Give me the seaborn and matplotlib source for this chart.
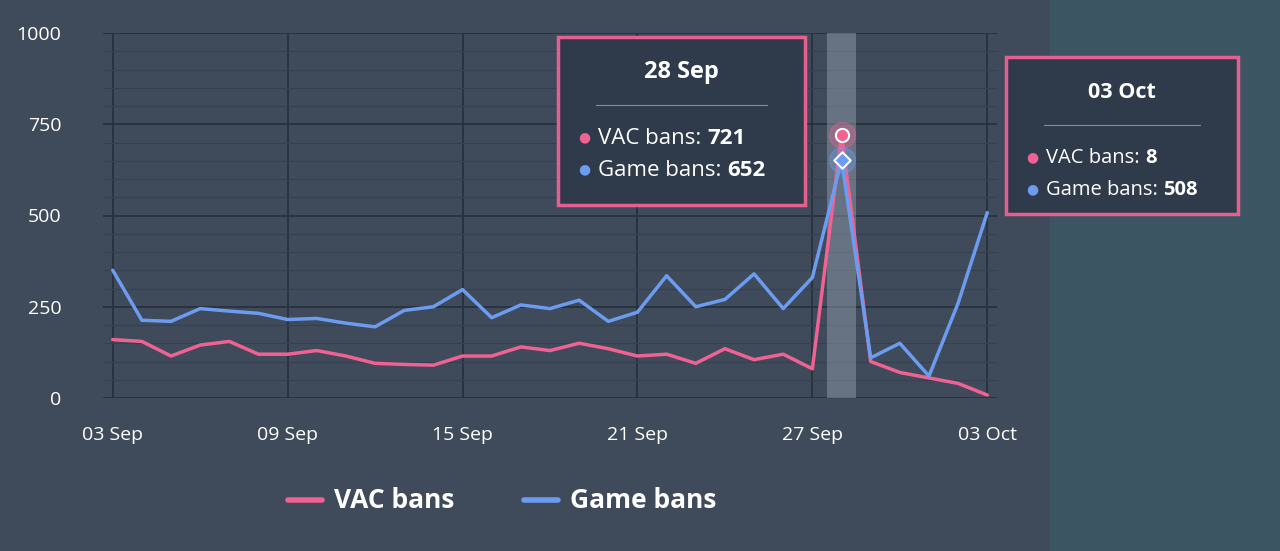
import matplotlib
matplotlib.use("Agg")
import matplotlib.pyplot as plt
import seaborn as sns
import pandas as pd
import numpy as np
from matplotlib.patches import Rectangle

dates = pd.date_range("2023-09-03", "2023-10-03", freq="D")
vac_bans = [160,155,115,145,155,120,120,130,115,95,92,90,115,115,140,130,150,135,115,120,95,135,105,120,80,721,100,70,55,40,8]
game_bans = [350,213,210,245,238,232,215,218,205,195,240,250,297,220,255,245,268,210,235,335,250,270,340,245,330,652,110,150,60,260,508]
tick_labels = ["03 Sep","09 Sep","15 Sep","21 Sep","27 Sep","03 Oct"]

PINK = "#f06292"; BLUE = "#6b9cf0"; BG = "#3f4b5b"
sns.set_theme(style="dark")
plt.rcParams['font.family'] = ['Open Sans', 'DejaVu Sans']
fig = plt.figure(figsize=(12.8, 5.51), dpi=100, facecolor=BG)
fig.patches.append(Rectangle((1050/1280, 0), 230/1280, 1, transform=fig.transFigure, color="#3b5563", zorder=0))
ax = fig.add_axes([103/1280, 1-398/551, (997-103)/1280, (398-33)/551])
ax.set_facecolor("none")
df = pd.DataFrame({"date": list(dates)*2, "value": vac_bans+game_bans,
                   "series": ["VAC bans"]*31 + ["Game bans"]*31})
sns.lineplot(data=df, x="date", y="value", hue="series", palette={"VAC bans": PINK, "Game bans": BLUE},
             linewidth=2.5, ax=ax, legend=False)
ax.set_ylim(0, 1000)
ax.set_xlim(dates[0]-pd.Timedelta(hours=8), dates[-1]+pd.Timedelta(hours=8))
ax.set_yticks([0,250,500,750,1000])
ax.set_yticks(np.arange(0,1001,50), minor=True)
ax.set_xticks(dates[::6]); ax.set_xticklabels(tick_labels)
ax.grid(True, which="major", color="#26303c", linewidth=1.2)
ax.grid(True, which="minor", axis="y", color="#354050", linewidth=0.8)
ax.tick_params(colors="white", labelsize=14, length=0)
ax.tick_params(axis="x", pad=20)
ax.tick_params(axis="y", pad=30)
ax.set_xlabel(""); ax.set_ylabel("")
for s in ax.spines.values(): s.set_visible(False)
d28 = dates[25]
ax.axvspan(d28-pd.Timedelta(hours=12), d28+pd.Timedelta(hours=12), color="#9aa6b2", alpha=0.45, lw=0)
ax.scatter([d28],[721], s=350, color=PINK, alpha=0.35, zorder=4)
ax.scatter([d28],[721], s=90, color=PINK, edgecolor="white", lw=1.5, zorder=5)
ax.scatter([d28],[652], s=350, color=BLUE, alpha=0.35, zorder=4)
ax.scatter([d28],[652], s=70, marker="D", color=BLUE, edgecolor="white", lw=1.5, zorder=5)

def tooltip(x0, y0, w, h, title, vac, game, fs):
    fig.patches.append(Rectangle((x0/1280, 1-(y0+h)/551), w/1280, h/551, transform=fig.transFigure,
                                 facecolor="#2f3a4a", edgecolor=PINK, lw=2.5, alpha=0.95, zorder=10))
    cx = (x0 + w/2)/1280
    fig.text(cx, 1-(y0+35)/551, title, color="white", fontsize=fs+1, weight="bold", ha="center", va="center", zorder=11)
    fig.add_artist(plt.Line2D([(x0+38)/1280,(x0+w-38)/1280],[1-(y0+68)/551]*2, color="#8090a0", lw=0.8, zorder=11))
    for i,(lab,val,c) in enumerate([("VAC bans: ",vac,PINK),("Game bans: ",game,BLUE)]):
        yy = 1-(y0+101+i*32)/551
        fig.text((x0+20)/1280, yy, "●", color=c, fontsize=10, va="center", zorder=11)
        t = fig.text((x0+40)/1280, yy, lab, color="white", fontsize=fs, va="center", zorder=11)
        fig.canvas.draw()
        bb = t.get_window_extent()
        fig.text(bb.x1/1280, yy, str(val), color="white", fontsize=fs, weight="bold", va="center", zorder=11)

tooltip(558, 37, 247, 168, "28 Sep", 721, 652, 16)
tooltip(1006, 57, 232, 157, "03 Oct", 8, 508, 14.5)

fig.add_artist(plt.Line2D([288/1280,322/1280],[1-500/551]*2, color=PINK, lw=4))
fig.text(334/1280, 1-500/551, "VAC bans", color="white", fontsize=19, weight="bold", va="center")
fig.add_artist(plt.Line2D([524/1280,558/1280],[1-500/551]*2, color=BLUE, lw=4))
fig.text(570/1280, 1-500/551, "Game bans", color="white", fontsize=19, weight="bold", va="center")
fig.savefig("out.png", dpi=100, facecolor=BG)
